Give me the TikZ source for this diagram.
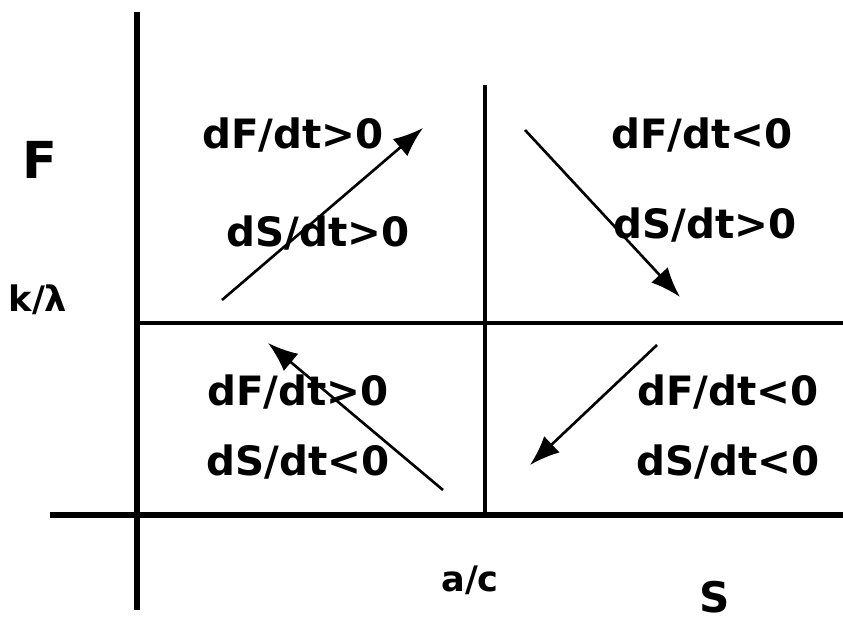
\documentclass[tikz,border=0pt]{standalone}
\usepackage{xcolor}
\usepackage{fontspec}
\setmainfont{DejaVu Sans}
\usetikzlibrary{arrows.meta}

\tikzset{
  rate/.style={font=\bfseries\fontsize{23}{26}\selectfont, inner sep=0pt},
  flow/.style={line width=1.5pt, -{Latex[length=6mm,width=4.5mm]}}
}

\begin{document}
\begin{tikzpicture}
\useasboundingbox (0,0) rectangle (16.86,12.44);
% axes
\draw[line width=3.4pt] (2.74,12.2) -- (2.74,0.24);
\draw[line width=3.4pt] (1.0,2.14) -- (16.86,2.14);
% separating lines
\draw[line width=1.8pt] (2.74,5.98) -- (16.86,5.98);
\draw[line width=1.8pt] (9.7,10.74) -- (9.7,2.14);
% axis labels
\node[font=\bfseries\fontsize{29}{32}\selectfont] (F) at (0.8,9.24) {F};
\node[font=\bfseries\fontsize{20}{24}\selectfont] (klam) at (0.76,6.44) {k/λ};
\node[font=\bfseries\fontsize{20}{24}\selectfont] (ac) at (9.4,0.84) {a/c};
\node[font=\bfseries\fontsize{24}{28}\selectfont] (S) at (14.3,0.5) {S};
% quadrant labels
\node[rate] (q1F) at (5.86,9.74) {dF/dt>0};
\node[rate] (q1S) at (6.36,7.78) {dS/dt>0};
\node[rate] (q2F) at (14.04,9.74) {dF/dt<0};
\node[rate] (q2S) at (14.1,7.94) {dS/dt>0};
\node[rate] (q3F) at (5.96,4.6) {dF/dt>0};
\node[rate] (q3S) at (5.96,3.2) {dS/dt<0};
\node[rate] (q4F) at (14.56,4.6) {dF/dt<0};
\node[rate] (q4S) at (14.56,3.2) {dS/dt<0};
% trajectories
\coordinate (a1) at (4.44,6.44);  \coordinate (b1) at (8.46,9.88);
\coordinate (a2) at (10.5,9.84);  \coordinate (b2) at (13.6,6.5);
\coordinate (a3) at (8.86,2.64);  \coordinate (b3) at (5.36,5.58);
\coordinate (a4) at (13.14,5.54); \coordinate (b4) at (10.6,3.14);
\draw[flow] (a1) -- (b1);
\draw[flow] (a2) -- (b2);
\draw[flow] (a3) -- (b3);
\draw[flow] (a4) -- (b4);
\end{tikzpicture}
\end{document}
